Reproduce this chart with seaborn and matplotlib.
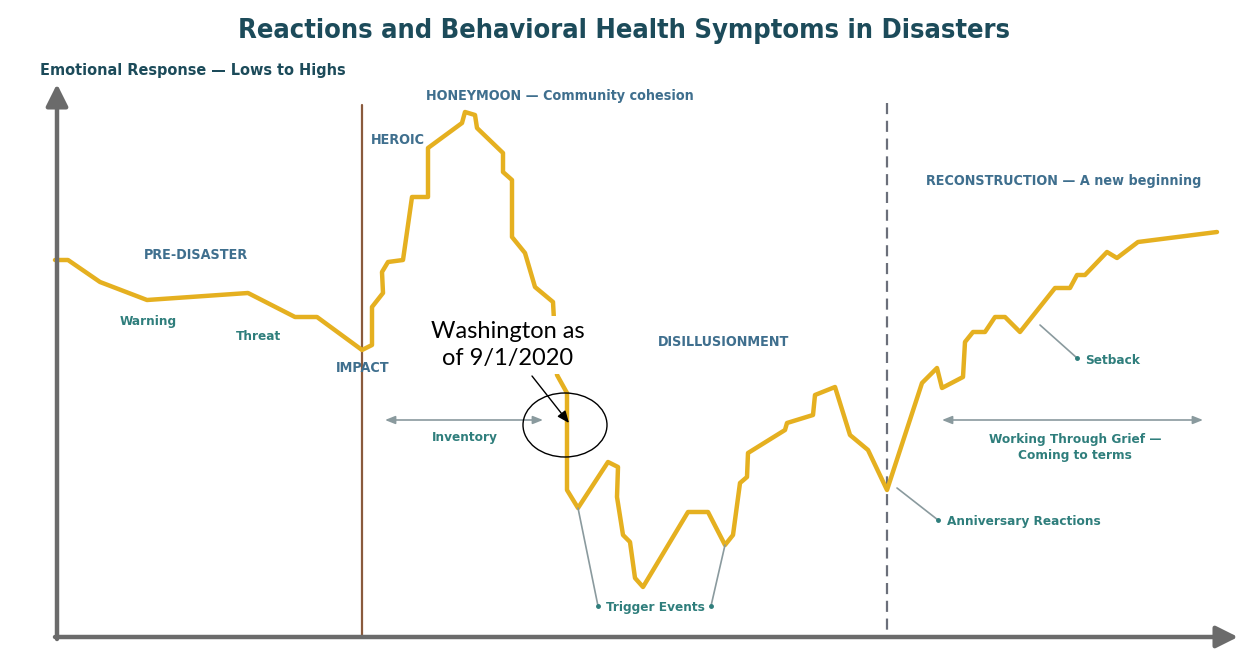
import matplotlib.pyplot as plt
import seaborn as sns
from matplotlib import font_manager
from matplotlib.patches import Ellipse

# emotional response curve (pixel-like units, y grows downward)
curve_x = [55, 68, 100, 147, 248, 295, 317, 362, 372, 372, 383, 382, 388, 403, 412,
           428, 428, 462, 465, 475, 477, 503, 503, 512, 512, 525, 535, 553, 557, 567,
           567, 578, 608, 618, 617, 623, 630, 635, 643, 688, 708, 725, 733, 740, 747,
           748, 785, 787, 813, 815, 835, 850, 868, 887, 922, 937, 942, 963, 965, 973,
           985, 995, 1005, 1020, 1055, 1070, 1077, 1085, 1107, 1117, 1138, 1217]
curve_y = [260, 260, 282, 300, 293, 317, 317, 350, 345, 307, 293, 272, 262, 260, 197,
           197, 148, 123, 112, 115, 128, 153, 172, 180, 237, 253, 287, 302, 375, 393,
           490, 508, 462, 467, 497, 535, 542, 578, 587, 512, 512, 545, 535, 483, 477,
           453, 430, 423, 415, 395, 387, 435, 450, 490, 383, 368, 388, 377, 342, 332,
           332, 317, 317, 332, 288, 288, 275, 275, 252, 258, 242, 232]

impact_x = 362
anniversary_x = 887

stage_labels = ["PRE-DISASTER", "HEROIC", "HONEYMOON \u2014 Community cohesion", "IMPACT",
                "DISILLUSIONMENT", "RECONSTRUCTION \u2014 A new beginning"]
stage_pos = [(196, 255), (398, 140), (560, 96), (363, 368), (724, 342), (1064, 181)]

note_labels = ["Warning", "Threat", "Inventory", "Setback",
               "Working Through Grief \u2014\nComing to terms", "Anniversary Reactions",
               "Trigger Events"]
note_pos = [(148, 322), (259, 337), (465, 438), (1113, 360), (1075, 447), (1024, 522), (655, 607)]

W, H = 1241, 652
sns.set_theme(style="white")
plt.rcParams['font.family'] = ['DejaVu Sans']

# condensed face if installed, otherwise shrink the regular one
names = {f.name + '|' + str(f.stretch) for f in font_manager.fontManager.ttflist}
has_cond = any(n.startswith('DejaVu Sans|') and n.split('|')[1] in ('condensed', '300', 'semi-condensed')
               for n in names)
stretch = 'condensed' if has_cond else 'normal'
k = 1.0 if has_cond else 0.85

fig = plt.figure(figsize=(W / 100, H / 100), dpi=100)
ax = fig.add_axes([0, 0, 1, 1])
ax.set_xlim(0, W)
ax.set_ylim(H, 0)
ax.axis('off')

gold = '#e5b020'
blue = '#3f6f8e'
teal = '#2f7e7c'
dark = '#1c4b5a'
grey = '#8a9a9e'

# axes arrows
arrow_kw = dict(arrowstyle='-|>,head_length=1.1,head_width=0.55', color='#6b6b6b', lw=3.2,
                shrinkA=0, shrinkB=0)
ax.annotate('', xy=(57, 84), xytext=(57, 639), arrowprops=arrow_kw)
ax.annotate('', xy=(1238, 637), xytext=(55, 637), arrowprops=arrow_kw)

# phase divider lines
ax.plot([impact_x, impact_x], [105, 637], color='#8a5a3c', lw=1.6)
ax.plot([anniversary_x, anniversary_x], [103, 637], color='#6b6f7a', lw=1.6, ls=(0, (5, 3)))

sns.lineplot(x=curve_x, y=curve_y, sort=False, estimator=None, color=gold, lw=3.2, ax=ax)

ax.text(624, 31, "Reactions and Behavioral Health Symptoms in Disasters", ha='center', va='center',
        fontsize=19.5 * k, fontweight='bold', color=dark, fontstretch=stretch)
ax.text(40, 70, "Emotional Response \u2014 Lows to Highs", ha='left', va='center',
        fontsize=11.6 * k, fontweight='bold', color=dark, fontstretch=stretch)

for lab, (x, y) in zip(stage_labels, stage_pos):
    ax.text(x, y, lab, ha='center', va='center', fontsize=10.3 * k, fontweight='bold', color=blue,
            fontstretch=stretch)

for lab, (x, y) in zip(note_labels, note_pos):
    ax.text(x, y, lab, ha='center', va='center', fontsize=9.7 * k, fontweight='bold', color=teal,
            linespacing=1.3, fontstretch=stretch)

# double arrows for time spans
span_kw = dict(arrowstyle='<|-|>,head_length=0.5,head_width=0.2', color=grey, lw=1.2,
               shrinkA=0, shrinkB=0)
ax.annotate('', xy=(385, 420), xytext=(543, 420), arrowprops=span_kw)
ax.annotate('', xy=(942, 420), xytext=(1203, 420), arrowprops=span_kw)

# leader lines
leaders = [((1040, 325), (1077, 358)), ((897, 488), (938, 520)),
           ((578, 508), (598, 606)), ((725, 545), (711, 606))]
for (x0, y0), (x1, y1) in leaders:
    ax.plot([x0, x1], [y0, y1], color=grey, lw=1.2)
    ax.plot([x1], [y1], 'o', color=teal, ms=2.5)

# overlay annotation (white box hides the curve behind it)
ax.text(508, 345, "Washington as\nof 9/1/2020", ha='center', va='center', fontsize=17,
        color='black', family=['Lato', 'DejaVu Sans'], linespacing=1.35, zorder=5,
        bbox=dict(boxstyle='square,pad=0.2', fc='white', ec='none'))
ax.add_patch(Ellipse((565, 425), 84, 64, fill=False, ec='black', lw=1.0, zorder=6))
ax.annotate('', xy=(569, 423), xytext=(532, 376), zorder=6,
            arrowprops=dict(arrowstyle='-|>,head_length=0.6,head_width=0.25', color='black',
                            lw=1.0, shrinkA=0, shrinkB=0))

fig.savefig('out.png', dpi=100)
